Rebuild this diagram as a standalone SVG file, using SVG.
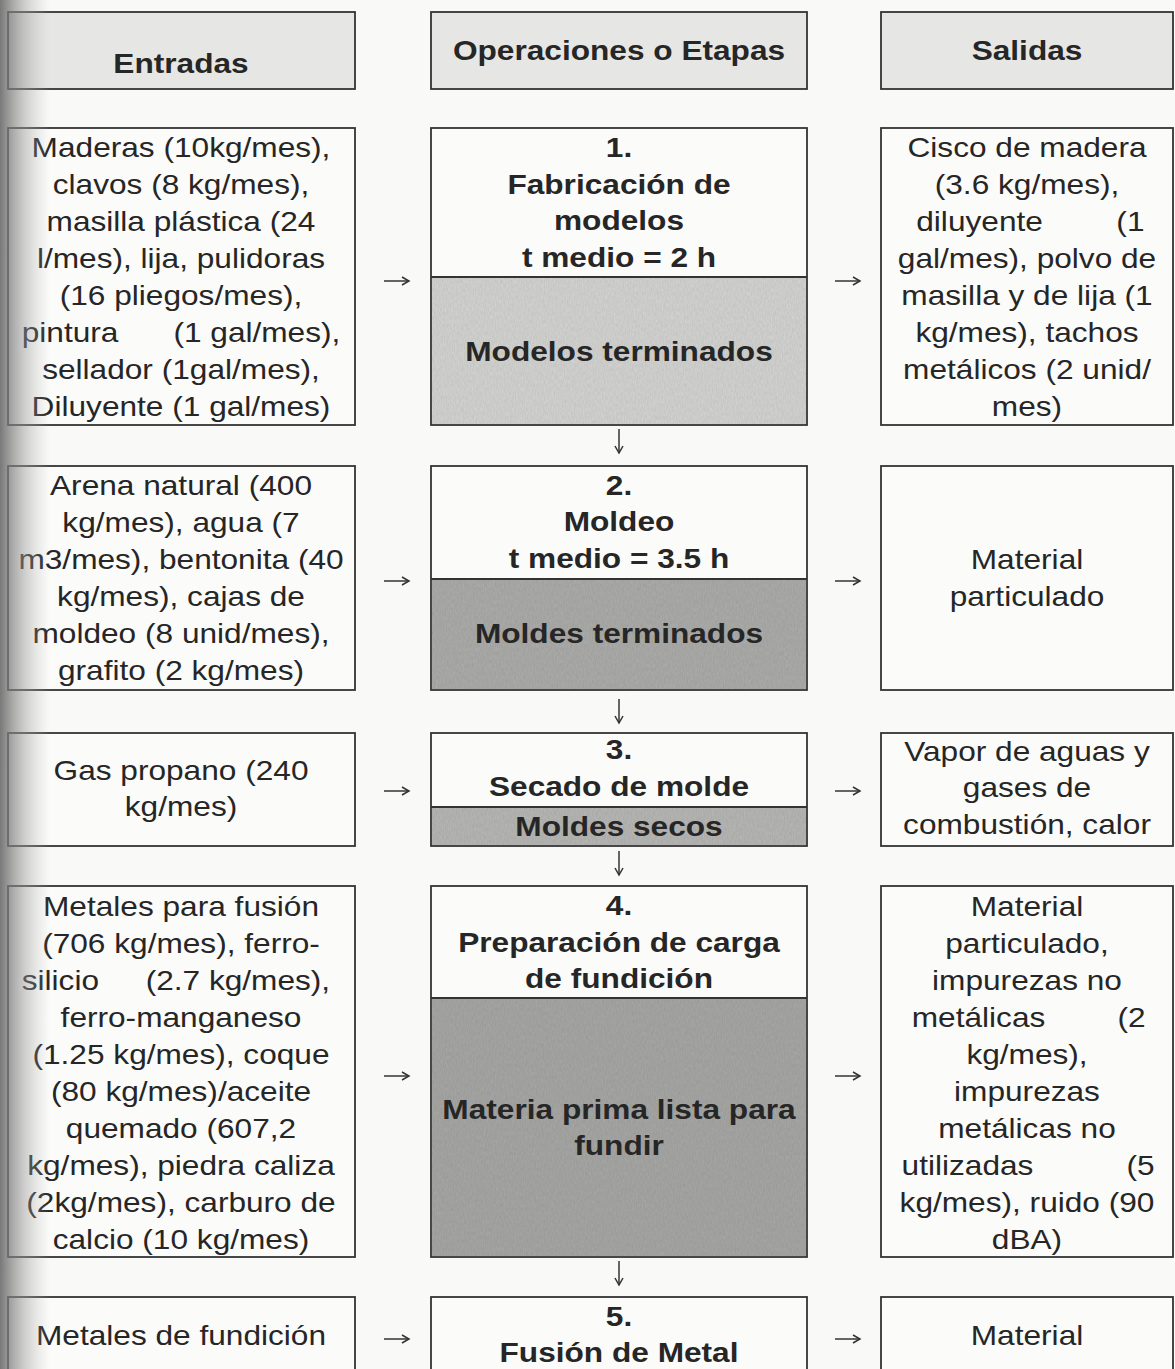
<svg xmlns="http://www.w3.org/2000/svg" width="1175" height="1369" viewBox="0 0 1175 1369">
<style>
.t{font-family:"Liberation Sans",Arial,Helvetica,sans-serif;font-size:28px;fill:#262626;text-anchor:middle}
.b{font-weight:bold}
.s{text-anchor:start}
.e{text-anchor:end}
.box{fill:#fbfbfa;stroke:#333;stroke-width:1.8}
.hdr{fill:#e6e6e4;stroke:#333;stroke-width:1.8}
.div{stroke:#333;stroke-width:1.8}
.c{stroke:#333;stroke-width:1.5;fill:none;marker-end:url(#ah)}
</style>
<defs>
<marker id="ah" markerUnits="userSpaceOnUse" markerWidth="12" markerHeight="12" refX="9" refY="5" orient="auto">
<path d="M2,1 L9,5 L2,9" fill="none" stroke="#333" stroke-width="1.5"/>
</marker>
<linearGradient id="shadow" x1="0" y1="0" x2="1" y2="0">
<stop offset="0" stop-color="#6a6a6a" stop-opacity="0.9"/>
<stop offset="0.5" stop-color="#999999" stop-opacity="0.45"/>
<stop offset="1" stop-color="#bbbbbb" stop-opacity="0"/>
</linearGradient>
<filter id="grain" x="0" y="0" width="100%" height="100%">
<feTurbulence type="fractalNoise" baseFrequency="0.9 0.25" numOctaves="2" seed="3"/>
<feColorMatrix type="matrix" values="0 0 0 0 0.4  0 0 0 0 0.4  0 0 0 0 0.4  0 0 0 0.35 0"/>
<feComposite in2="SourceGraphic" operator="in"/>
<feBlend in2="SourceGraphic" mode="multiply"/>
</filter>
</defs>
<rect x="0" y="0" width="1175" height="1369" fill="#f9f9f7"/>

<!-- Header -->
<g id="hdr-entradas">
<rect class="hdr" x="8" y="12" width="347" height="77"/>
<g transform="translate(181,0) scale(1.13,1)"><text class="t b" x="0" y="73">Entradas</text></g>
</g>
<g id="hdr-operaciones">
<rect class="hdr" x="431" y="12" width="376" height="77"/>
<g transform="translate(619,0) scale(1.13,1)"><text class="t b" x="0" y="60">Operaciones o Etapas</text></g>
</g>
<g id="hdr-salidas">
<rect class="hdr" x="881" y="12" width="292" height="77"/>
<g transform="translate(1027,0) scale(1.13,1)"><text class="t b" x="0" y="60">Salidas</text></g>
</g>

<!-- Row 1 -->
<g id="in1">
<rect class="box" x="8" y="128" width="347" height="297"/>
<g transform="translate(181,0) scale(1.13,1)">
<text class="t" x="0" y="157">Maderas (10kg/mes),</text>
<text class="t" x="0" y="194">clavos (8 kg/mes),</text>
<text class="t" x="0" y="231">masilla plástica (24</text>
<text class="t" x="0" y="268">l/mes), lija, pulidoras</text>
<text class="t" x="0" y="305">(16 pliegos/mes),</text>
<text class="t s" x="-141" y="342">pintura</text><text class="t e" x="141" y="342">(1 gal/mes),</text>
<text class="t" x="0" y="379">sellador (1gal/mes),</text>
<text class="t" x="0" y="416">Diluyente (1 gal/mes)</text>
</g>
</g>
<g id="op1">
<rect class="box" x="431" y="128" width="376" height="297"/>
<rect x="432" y="277" width="374" height="147" fill="#d5d5d3" filter="url(#grain)"/>
<line class="div" x1="431" y1="277" x2="807" y2="277"/>
<g transform="translate(619,0) scale(1.13,1)">
<text class="t b" x="0" y="157">1.</text>
<text class="t b" x="0" y="194">Fabricación de</text>
<text class="t b" x="0" y="230">modelos</text>
<text class="t b" x="0" y="267">t medio = 2 h</text>
<text class="t b" x="0" y="361">Modelos terminados</text>
</g>
</g>
<g id="out1">
<rect class="box" x="881" y="128" width="292" height="297"/>
<g transform="translate(1027,0) scale(1.13,1)">
<text class="t" x="0" y="157">Cisco de madera</text>
<text class="t" x="0" y="194">(3.6 kg/mes),</text>
<text class="t s" x="-98" y="231">diluyente</text><text class="t e" x="104" y="231">(1</text>
<text class="t" x="0" y="268">gal/mes), polvo de</text>
<text class="t" x="0" y="305">masilla y de lija (1</text>
<text class="t" x="0" y="342">kg/mes), tachos</text>
<text class="t" x="0" y="379">metálicos (2 unid/</text>
<text class="t" x="0" y="416">mes)</text>
</g>
</g>

<!-- Row 2 -->
<g id="in2">
<rect class="box" x="8" y="466" width="347" height="224"/>
<g transform="translate(181,0) scale(1.13,1)">
<text class="t" x="0" y="495">Arena natural (400</text>
<text class="t" x="0" y="532">kg/mes), agua (7</text>
<text class="t" x="0" y="569">m3/mes), bentonita (40</text>
<text class="t" x="0" y="606">kg/mes), cajas de</text>
<text class="t" x="0" y="643">moldeo (8 unid/mes),</text>
<text class="t" x="0" y="680">grafito (2 kg/mes)</text>
</g>
</g>
<g id="op2">
<rect class="box" x="431" y="466" width="376" height="224"/>
<rect x="432" y="579" width="374" height="110" fill="#adadab" filter="url(#grain)"/>
<line class="div" x1="431" y1="579" x2="807" y2="579"/>
<g transform="translate(619,0) scale(1.13,1)">
<text class="t b" x="0" y="495">2.</text>
<text class="t b" x="0" y="531">Moldeo</text>
<text class="t b" x="0" y="568">t medio = 3.5 h</text>
<text class="t b" x="0" y="643">Moldes terminados</text>
</g>
</g>
<g id="out2">
<rect class="box" x="881" y="466" width="292" height="224"/>
<g transform="translate(1027,0) scale(1.13,1)">
<text class="t" x="0" y="569">Material</text>
<text class="t" x="0" y="606">particulado</text>
</g>
</g>

<!-- Row 3 -->
<g id="in3">
<rect class="box" x="8" y="733" width="347" height="113"/>
<g transform="translate(181,0) scale(1.13,1)">
<text class="t" x="0" y="780">Gas propano (240</text>
<text class="t" x="0" y="816">kg/mes)</text>
</g>
</g>
<g id="op3">
<rect class="box" x="431" y="733" width="376" height="113"/>
<rect x="432" y="807" width="374" height="38" fill="#b8b8b6" filter="url(#grain)"/>
<line class="div" x1="431" y1="807" x2="807" y2="807"/>
<g transform="translate(619,0) scale(1.13,1)">
<text class="t b" x="0" y="759">3.</text>
<text class="t b" x="0" y="796">Secado de molde</text>
<text class="t b" x="0" y="836">Moldes secos</text>
</g>
</g>
<g id="out3">
<rect class="box" x="881" y="733" width="292" height="113"/>
<g transform="translate(1027,0) scale(1.13,1)">
<text class="t" x="0" y="761">Vapor de aguas y</text>
<text class="t" x="0" y="797">gases de</text>
<text class="t" x="0" y="834">combustión, calor</text>
</g>
</g>

<!-- Row 4 -->
<g id="in4">
<rect class="box" x="8" y="886" width="347" height="371"/>
<g transform="translate(181,0) scale(1.13,1)">
<text class="t" x="0" y="916">Metales para fusión</text>
<text class="t" x="0" y="953">(706 kg/mes), ferro-</text>
<text class="t s" x="-141" y="990">silicio</text><text class="t e" x="132" y="990">(2.7 kg/mes),</text>
<text class="t" x="0" y="1027">ferro-manganeso</text>
<text class="t" x="0" y="1064">(1.25 kg/mes), coque</text>
<text class="t" x="0" y="1101">(80 kg/mes)/aceite</text>
<text class="t" x="0" y="1138">quemado (607,2</text>
<text class="t" x="0" y="1175">kg/mes), piedra caliza</text>
<text class="t" x="0" y="1212">(2kg/mes), carburo de</text>
<text class="t" x="0" y="1249">calcio (10 kg/mes)</text>
</g>
</g>
<g id="op4">
<rect class="box" x="431" y="886" width="376" height="371"/>
<rect x="432" y="998" width="374" height="258" fill="#a8a8a6" filter="url(#grain)"/>
<line class="div" x1="431" y1="998" x2="807" y2="998"/>
<g transform="translate(619,0) scale(1.13,1)">
<text class="t b" x="0" y="915">4.</text>
<text class="t b" x="0" y="952">Preparación de carga</text>
<text class="t b" x="0" y="988">de fundición</text>
<text class="t b" x="0" y="1119">Materia prima lista para</text>
<text class="t b" x="0" y="1155">fundir</text>
</g>
</g>
<g id="out4">
<rect class="box" x="881" y="886" width="292" height="371"/>
<g transform="translate(1027,0) scale(1.13,1)">
<text class="t" x="0" y="916">Material</text>
<text class="t" x="0" y="953">particulado,</text>
<text class="t" x="0" y="990">impurezas no</text>
<text class="t s" x="-102" y="1027">metálicas</text><text class="t e" x="105" y="1027">(2</text>
<text class="t" x="0" y="1064">kg/mes),</text>
<text class="t" x="0" y="1101">impurezas</text>
<text class="t" x="0" y="1138">metálicas no</text>
<text class="t s" x="-111" y="1175">utilizadas</text><text class="t e" x="113" y="1175">(5</text>
<text class="t" x="0" y="1212">kg/mes), ruido (90</text>
<text class="t" x="0" y="1249">dBA)</text>
</g>
</g>

<!-- Row 5 -->
<g id="in5">
<rect class="box" x="8" y="1297" width="347" height="90"/>
<g transform="translate(181,0) scale(1.13,1)">
<text class="t" x="0" y="1345">Metales de fundición</text>
</g>
</g>
<g id="op5">
<rect class="box" x="431" y="1297" width="376" height="90"/>
<g transform="translate(619,0) scale(1.13,1)">
<text class="t b" x="0" y="1326">5.</text>
<text class="t b" x="0" y="1362">Fusión de Metal</text>
</g>
</g>
<g id="out5">
<rect class="box" x="881" y="1297" width="292" height="90"/>
<g transform="translate(1027,0) scale(1.13,1)">
<text class="t" x="0" y="1345">Material</text>
</g>
</g>

<!-- Connectors -->
<g id="connectors">
<path class="c" d="M384,281 H409"/>
<path class="c" d="M835,281 H860"/>
<path class="c" d="M619,429 V453"/>
<path class="c" d="M384,581 H409"/>
<path class="c" d="M835,581 H860"/>
<path class="c" d="M619,699 V723"/>
<path class="c" d="M384,791 H409"/>
<path class="c" d="M835,791 H860"/>
<path class="c" d="M619,851 V875"/>
<path class="c" d="M384,1076 H409"/>
<path class="c" d="M835,1076 H860"/>
<path class="c" d="M619,1261 V1285"/>
<path class="c" d="M384,1339 H409"/>
<path class="c" d="M835,1339 H860"/>
</g>

<rect x="0" y="0" width="50" height="1369" fill="url(#shadow)"/>
</svg>
